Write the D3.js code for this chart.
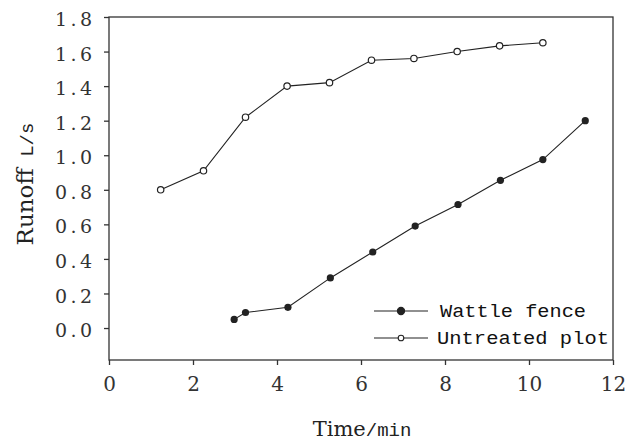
<!DOCTYPE html>
<html><head><meta charset="utf-8">
<script src="https://cdn.jsdelivr.net/npm/d3@7"></script>
<style>body{margin:0;background:#fff}svg{display:block}</style>
</head><body>
<script>
const xTicks=[0,2,4,6,8,10,12];
const yTicks=[0,0.2,0.4,0.6,0.8,1.0,1.2,1.4,1.6,1.8];
const wattleX=[2.98,3.25,4.26,5.27,6.28,7.29,8.31,9.32,10.33,11.34];
const wattleY=[0.05,0.09,0.12,0.29,0.44,0.59,0.715,0.855,0.975,1.20];
const untreatedX=[1.23,2.25,3.25,4.24,5.25,6.25,7.26,8.29,9.30,10.33];
const untreatedY=[0.80,0.91,1.22,1.40,1.42,1.55,1.56,1.60,1.633,1.651];
const seriesNames=["Wattle fence","Untreated plot"];
const xTitle=["Time","/min"];
const yTitle=["Runoff"," L/s"];

const W=628,H=441;
const svg=d3.select("body").append("svg").attr("width",W).attr("height",H);
const x=d3.scaleLinear().domain([0,12]).range([109,613]);
const y=d3.scaleLinear().domain([-0.185,1.8]).range([360,17]);
const ink="#222";

svg.append("rect").attr("x",x(0)).attr("y",y(1.8)).attr("width",x(12)-x(0)).attr("height",y(-0.185)-y(1.8))
  .attr("fill","none").attr("stroke","#333").attr("stroke-width",1.3);

const gx=svg.append("g").attr("transform",`translate(0,${y(-0.185)})`)
  .call(d3.axisBottom(x).tickValues(xTicks).tickSize(5).tickSizeOuter(0).tickFormat(d3.format("d")));
gx.select(".domain").remove();
gx.selectAll("line").attr("stroke","#333").attr("stroke-width",1.3);
gx.selectAll("text").attr("font-family","DejaVu Serif").attr("font-size",20).attr("fill","#333")
  .attr("y",8).attr("dy","23px");

const gy=svg.append("g").attr("transform",`translate(${x(0)},0)`)
  .call(d3.axisLeft(y).tickValues(yTicks).tickSize(5).tickSizeOuter(0).tickFormat(d3.format(".1f")));
gy.select(".domain").remove();
gy.selectAll("line").attr("stroke","#333").attr("stroke-width",1.3);
gy.selectAll("text").attr("font-family","DejaVu Serif").attr("font-size",19).attr("fill","#333")
  .attr("x",-17).attr("dy","0.45em").attr("textLength",37).attr("lengthAdjust","spacing");

const line=d3.line().x(d=>x(d[0])).y(d=>y(d[1]));
const wData=wattleX.map((v,i)=>[v,wattleY[i]]);
const uData=untreatedX.map((v,i)=>[v,untreatedY[i]]);

svg.append("path").datum(uData).attr("d",line).attr("fill","none").attr("stroke",ink).attr("stroke-width",1.1);
svg.append("path").datum(wData).attr("d",line).attr("fill","none").attr("stroke",ink).attr("stroke-width",1.1);
svg.selectAll("circle.u").data(uData).enter().append("circle").attr("class","u")
  .attr("cx",d=>x(d[0])).attr("cy",d=>y(d[1])).attr("r",3.2).attr("fill","#fff").attr("stroke",ink).attr("stroke-width",1.2);
svg.selectAll("circle.w").data(wData).enter().append("circle").attr("class","w")
  .attr("cx",d=>x(d[0])).attr("cy",d=>y(d[1])).attr("r",3.6).attr("fill",ink);

const leg=[{name:seriesNames[0],fill:ink,r:3.6,y:311,tx:440,tl:146},{name:seriesNames[1],fill:"#fff",r:2.8,y:338,tx:437,tl:172}];
leg.forEach(l=>{
  svg.append("line").attr("x1",374).attr("x2",428).attr("y1",l.y).attr("y2",l.y).attr("stroke",ink).attr("stroke-width",1.1);
  svg.append("circle").attr("cx",401).attr("cy",l.y).attr("r",l.r).attr("fill",l.fill).attr("stroke",ink).attr("stroke-width",1.1);
  svg.append("text").attr("x",l.tx).attr("y",l.y+6).attr("font-family","Liberation Mono").attr("font-size",19)
    .attr("fill","#111").attr("textLength",l.tl).attr("lengthAdjust","spacingAndGlyphs").text(l.name);
});

const xt=svg.append("text").attr("x",362).attr("y",436).attr("text-anchor","middle").attr("fill","#222");
xt.append("tspan").attr("font-family","DejaVu Serif").attr("font-size",21).text(xTitle[0]);
xt.append("tspan").attr("font-family","Liberation Mono").attr("font-size",19).text(xTitle[1]);

const yt=svg.append("text").attr("transform","translate(33,184) rotate(-90)").attr("text-anchor","middle").attr("fill","#222");
yt.append("tspan").attr("font-family","DejaVu Serif").attr("font-size",23).text(yTitle[0]);
yt.append("tspan").attr("font-family","Liberation Mono").attr("font-size",19).text(yTitle[1]);
</script>
</body></html>
